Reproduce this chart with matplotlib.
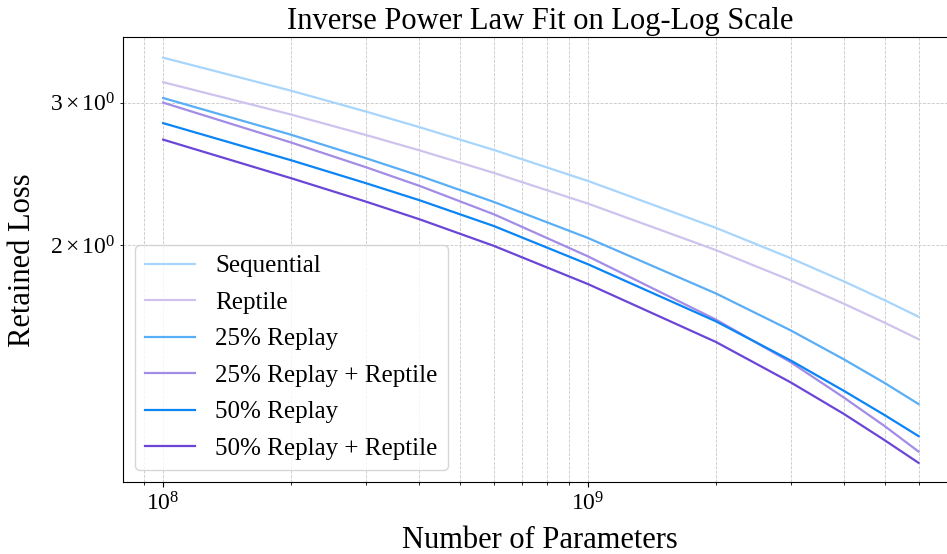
import matplotlib
matplotlib.use('Agg')
import matplotlib.pyplot as plt

plt.rcParams['font.family'] = ['Liberation Serif', 'DejaVu Serif']
plt.rcParams['mathtext.fontset'] = 'stix'

# Nilai (log-log)
params = [1e8, 2e8, 3e8, 4e8, 6e8, 1e9, 2e9, 3e9, 4e9, 5e9, 6e9]
sequential = [3.41, 3.104, 2.925, 2.799, 2.622, 2.40, 2.100, 1.926, 1.803, 1.708, 1.630]
reptile = [3.18, 2.900, 2.736, 2.620, 2.456, 2.25, 1.971, 1.808, 1.692, 1.602, 1.529]
replay25 = [3.04, 2.738, 2.561, 2.437, 2.261, 2.04, 1.742, 1.568, 1.444, 1.349, 1.271]
replay25_reptile = [3.00, 2.678, 2.496, 2.368, 2.183, 1.936, 1.617, 1.432, 1.295, 1.193, 1.110]
replay50 = [2.83, 2.546, 2.385, 2.273, 2.111, 1.893, 1.609, 1.439, 1.320, 1.231, 1.160]
replay50_reptile = [2.70, 2.419, 2.263, 2.153, 1.995, 1.789, 1.517, 1.352, 1.236, 1.146, 1.075]

labels = ['Sequential', 'Reptile', '25% Replay', '25% Replay + Reptile',
          '50% Replay', '50% Replay + Reptile']
series = [sequential, reptile, replay25, replay25_reptile, replay50, replay50_reptile]
colors = ['#a8d5fb', '#cfc3ee', '#5aaef5', '#a38ce6', '#0b85f5', '#6b46d6']

W, H = 947, 554
fig = plt.figure(figsize=(W / 100, H / 100), dpi=100)
ax = fig.add_axes([122.7 / W, (H - 482.3) / H, (958 - 122.7) / W, (482.3 - 37.3) / H])

for vals, lab, col in zip(series, labels, colors):
    ax.plot(params, vals, color=col, linewidth=1.6, label=lab)

ax.set_xscale('log')
ax.set_yscale('log')
ax.set_xlim(8.03e7, 7.43e9)
ax.set_ylim(1.017, 3.614)

ax.set_title('Inverse Power Law Fit on Log-Log Scale', fontsize=22)
ax.set_xlabel('Number of Parameters', fontsize=22, labelpad=8)
ax.set_ylabel('Retained Loss', fontsize=22, labelpad=9)
ax.tick_params(axis='both', which='both', labelsize=17)
ax.grid(True, which='both', linestyle='--', linewidth=0.6, color='#c8c8c8')

ax.legend(loc='lower left', fontsize=18, labelspacing=0.56)

plt.savefig('out.png', dpi=100)
plt.close()
